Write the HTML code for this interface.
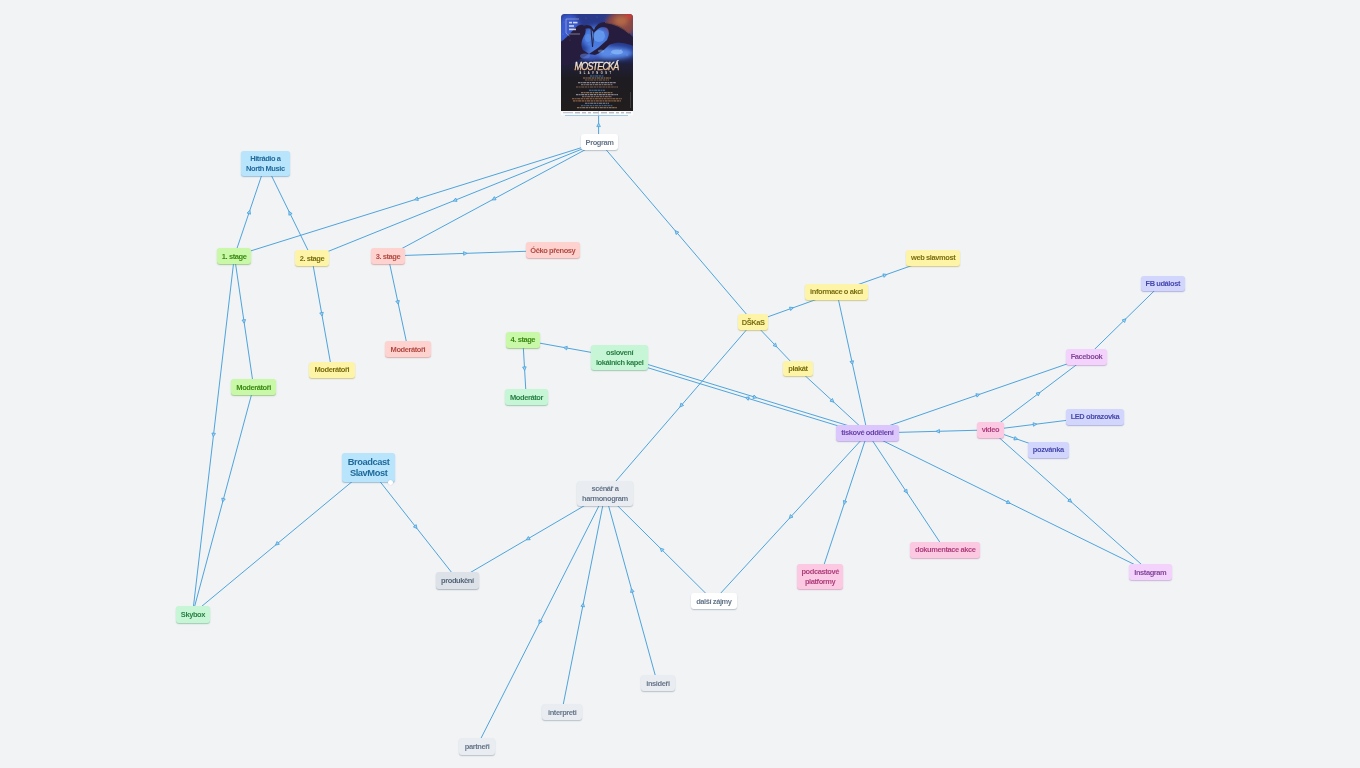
<!DOCTYPE html>
<html><head><meta charset="utf-8"><style>
html,body{margin:0;padding:0;}
body{width:1360px;height:768px;overflow:hidden;background:#f1f3f5;position:relative;font-family:"Liberation Sans",sans-serif;}
svg.e{position:absolute;left:0;top:0;}
svg.e line{stroke:#4ea4dc;stroke-width:1;}
svg.e .m{fill:#9fd3f5;stroke:#4ea4dc;stroke-width:0.8;}
.n{position:absolute;will-change:transform;box-sizing:border-box;border-radius:3px;box-shadow:0 1px 1.5px rgba(60,70,90,.28);display:flex;align-items:center;justify-content:center;text-align:center;font-size:7.5px;line-height:9.5px;font-weight:bold;white-space:nowrap;}
.n span{display:block;letter-spacing:-0.42px;position:relative;top:0.4px;}
.big{font-size:9.3px;line-height:11.6px;}
.big span{top:0.6px;}
.ic{position:absolute;width:5px;height:5px;border-radius:50%;background:#fff;box-shadow:0 0 1px rgba(0,0,0,.25);}
.poster{position:absolute;overflow:hidden;will-change:transform;}
.poster svg{display:block;}
</style></head><body>
<svg class="e" width="1360" height="768"><line x1="598.6" y1="142.0" x2="598.6" y2="65.0"/><path class="m" d="M-1.6,-1.8 L1.9,0 L-1.6,1.8 Z" transform="translate(598.6,125.0) rotate(-90.0)"/><line x1="599.5" y1="142.0" x2="234.4" y2="256.0"/><path class="m" d="M-1.6,-1.8 L1.9,0 L-1.6,1.8 Z" transform="translate(416.3,199.2) rotate(162.7)"/><line x1="599.5" y1="142.0" x2="311.8" y2="258.0"/><path class="m" d="M-1.6,-1.8 L1.9,0 L-1.6,1.8 Z" transform="translate(454.9,200.3) rotate(158.0)"/><line x1="599.5" y1="142.0" x2="388.0" y2="256.0"/><path class="m" d="M-1.6,-1.8 L1.9,0 L-1.6,1.8 Z" transform="translate(493.8,199.0) rotate(151.7)"/><line x1="599.5" y1="142.0" x2="753.2" y2="322.1"/><path class="m" d="M-1.6,-1.8 L1.9,0 L-1.6,1.8 Z" transform="translate(676.4,232.1) rotate(229.5)"/><line x1="265.6" y1="163.7" x2="234.4" y2="256.0"/><path class="m" d="M-1.6,-1.8 L1.9,0 L-1.6,1.8 Z" transform="translate(249.3,212.1) rotate(288.7)"/><line x1="265.6" y1="163.7" x2="311.8" y2="258.0"/><path class="m" d="M-1.6,-1.8 L1.9,0 L-1.6,1.8 Z" transform="translate(289.8,213.0) rotate(243.9)"/><line x1="234.4" y1="256.0" x2="253.6" y2="386.8"/><path class="m" d="M-1.6,-1.8 L1.9,0 L-1.6,1.8 Z" transform="translate(244.0,321.4) rotate(81.7)"/><line x1="234.4" y1="256.0" x2="192.6" y2="613.9"/><path class="m" d="M-1.6,-1.8 L1.9,0 L-1.6,1.8 Z" transform="translate(213.5,434.8) rotate(96.7)"/><line x1="253.6" y1="386.8" x2="192.6" y2="613.9"/><path class="m" d="M-1.6,-1.8 L1.9,0 L-1.6,1.8 Z" transform="translate(223.1,500.1) rotate(105.0)"/><line x1="311.8" y1="258.0" x2="331.8" y2="370.2"/><path class="m" d="M-1.6,-1.8 L1.9,0 L-1.6,1.8 Z" transform="translate(321.8,314.2) rotate(79.9)"/><line x1="388.0" y1="256.0" x2="552.4" y2="250.4"/><path class="m" d="M-1.6,-1.8 L1.9,0 L-1.6,1.8 Z" transform="translate(465.2,253.4) rotate(-2.0)"/><line x1="388.0" y1="256.0" x2="407.9" y2="348.7"/><path class="m" d="M-1.6,-1.8 L1.9,0 L-1.6,1.8 Z" transform="translate(397.9,302.4) rotate(77.9)"/><line x1="522.9" y1="340.1" x2="526.2" y2="396.9"/><path class="m" d="M-1.6,-1.8 L1.9,0 L-1.6,1.8 Z" transform="translate(524.5,368.5) rotate(86.6)"/><line x1="619.6" y1="357.5" x2="522.9" y2="340.1"/><path class="m" d="M-1.6,-1.8 L1.9,0 L-1.6,1.8 Z" transform="translate(565.4,347.8) rotate(-169.8)"/><line x1="369.0" y1="467.6" x2="192.6" y2="613.9"/><path class="m" d="M-1.6,-1.8 L1.9,0 L-1.6,1.8 Z" transform="translate(277.0,543.9) rotate(140.3)"/><line x1="369.0" y1="467.6" x2="457.6" y2="580.0"/><path class="m" d="M-1.6,-1.8 L1.9,0 L-1.6,1.8 Z" transform="translate(415.8,527.0) rotate(51.7)"/><line x1="605.2" y1="493.5" x2="457.6" y2="580.0"/><path class="m" d="M-1.6,-1.8 L1.9,0 L-1.6,1.8 Z" transform="translate(527.9,538.9) rotate(149.6)"/><line x1="605.2" y1="493.5" x2="476.9" y2="746.3"/><path class="m" d="M-1.6,-1.8 L1.9,0 L-1.6,1.8 Z" transform="translate(539.9,622.0) rotate(116.9)"/><line x1="605.2" y1="493.5" x2="561.7" y2="712.2"/><path class="m" d="M-1.6,-1.8 L1.9,0 L-1.6,1.8 Z" transform="translate(583.0,605.0) rotate(281.2)"/><line x1="605.2" y1="493.5" x2="657.4" y2="683.1"/><path class="m" d="M-1.6,-1.8 L1.9,0 L-1.6,1.8 Z" transform="translate(631.9,590.5) rotate(254.6)"/><line x1="605.2" y1="493.5" x2="713.5" y2="601.0"/><path class="m" d="M-1.6,-1.8 L1.9,0 L-1.6,1.8 Z" transform="translate(661.6,549.5) rotate(224.8)"/><line x1="753.2" y1="322.1" x2="605.2" y2="493.5"/><path class="m" d="M-1.6,-1.8 L1.9,0 L-1.6,1.8 Z" transform="translate(681.2,405.5) rotate(130.8)"/><line x1="753.2" y1="322.1" x2="836.8" y2="292.1"/><path class="m" d="M-1.6,-1.8 L1.9,0 L-1.6,1.8 Z" transform="translate(791.6,308.3) rotate(-19.7)"/><line x1="753.2" y1="322.1" x2="797.5" y2="368.7"/><path class="m" d="M-1.6,-1.8 L1.9,0 L-1.6,1.8 Z" transform="translate(775.4,345.5) rotate(46.5)"/><line x1="836.8" y1="292.1" x2="933.1" y2="258.0"/><path class="m" d="M-1.6,-1.8 L1.9,0 L-1.6,1.8 Z" transform="translate(885.0,275.1) rotate(-19.5)"/><line x1="836.8" y1="292.1" x2="867.5" y2="433.2"/><path class="m" d="M-1.6,-1.8 L1.9,0 L-1.6,1.8 Z" transform="translate(852.1,362.7) rotate(77.7)"/><line x1="797.5" y1="368.7" x2="867.5" y2="433.2"/><path class="m" d="M-1.6,-1.8 L1.9,0 L-1.6,1.8 Z" transform="translate(832.4,400.9) rotate(42.6)"/><line x1="867.5" y1="433.2" x2="713.5" y2="601.0"/><path class="m" d="M-1.6,-1.8 L1.9,0 L-1.6,1.8 Z" transform="translate(790.6,517.0) rotate(132.5)"/><line x1="867.5" y1="433.2" x2="820.1" y2="576.6"/><path class="m" d="M-1.6,-1.8 L1.9,0 L-1.6,1.8 Z" transform="translate(844.6,502.6) rotate(108.3)"/><line x1="867.5" y1="433.2" x2="944.9" y2="549.8"/><path class="m" d="M-1.6,-1.8 L1.9,0 L-1.6,1.8 Z" transform="translate(906.2,491.5) rotate(56.4)"/><line x1="867.5" y1="433.2" x2="1150.3" y2="572.3"/><path class="m" d="M-1.6,-1.8 L1.9,0 L-1.6,1.8 Z" transform="translate(1008.6,502.6) rotate(26.2)"/><line x1="867.5" y1="433.2" x2="1086.5" y2="357.2"/><path class="m" d="M-1.6,-1.8 L1.9,0 L-1.6,1.8 Z" transform="translate(978.0,394.9) rotate(-19.1)"/><line x1="990.4" y1="429.9" x2="867.5" y2="433.2"/><path class="m" d="M-1.6,-1.8 L1.9,0 L-1.6,1.8 Z" transform="translate(937.9,431.3) rotate(178.4)"/><line x1="990.4" y1="429.9" x2="1086.5" y2="357.2"/><path class="m" d="M-1.6,-1.8 L1.9,0 L-1.6,1.8 Z" transform="translate(1038.5,393.5) rotate(-37.1)"/><line x1="990.4" y1="429.9" x2="1095.0" y2="416.8"/><path class="m" d="M-1.6,-1.8 L1.9,0 L-1.6,1.8 Z" transform="translate(1034.9,424.3) rotate(-7.1)"/><line x1="990.4" y1="429.9" x2="1048.5" y2="450.0"/><path class="m" d="M-1.6,-1.8 L1.9,0 L-1.6,1.8 Z" transform="translate(1016.0,438.8) rotate(19.2)"/><line x1="990.4" y1="429.9" x2="1150.3" y2="572.3"/><path class="m" d="M-1.6,-1.8 L1.9,0 L-1.6,1.8 Z" transform="translate(1070.2,501.0) rotate(41.7)"/><line x1="1086.5" y1="357.2" x2="1162.2" y2="283.1"/><path class="m" d="M-1.6,-1.8 L1.9,0 L-1.6,1.8 Z" transform="translate(1124.5,320.1) rotate(-44.3)"/><line x1="620.1" y1="356.0" x2="868.0" y2="431.7"/><path class="m" d="M-1.6,-1.8 L1.9,0 L-1.6,1.8 Z" transform="translate(755.0,397.2) rotate(17.0)"/><line x1="619.2" y1="359.0" x2="867.0" y2="434.7"/><path class="m" d="M-1.6,-1.8 L1.9,0 L-1.6,1.8 Z" transform="translate(747.2,398.1) rotate(197.0)"/></svg>
<div class="poster" style="left:561px;top:14px;width:72px;height:102px"><svg width="72" height="102" viewBox="0 0 72 102">
<defs>
<clipPath id="pc"><path d="M0,3.5 Q0,0 3.5,0 L68.5,0 Q72,0 72,3.5 L72,97.2 L0,97.2 Z"/></clipPath>
<filter id="pb" x="-30%" y="-30%" width="160%" height="160%"><feGaussianBlur stdDeviation="2.2"/></filter>
<filter id="pb2" x="-20%" y="-20%" width="140%" height="140%"><feGaussianBlur stdDeviation="0.45"/></filter>
<filter id="pb3" x="-10%" y="-50%" width="120%" height="200%"><feGaussianBlur stdDeviation="0.3"/></filter>
<linearGradient id="pbg" x1="0" y1="0" x2="0" y2="1"><stop offset="0" stop-color="#2a3a8a"/><stop offset="0.4" stop-color="#243a90"/><stop offset="0.52" stop-color="#201f3a"/><stop offset="0.66" stop-color="#1e1c22"/><stop offset="1" stop-color="#211d1d"/></linearGradient>
<linearGradient id="ptx" x1="0" y1="0" x2="0" y2="1"><stop offset="0" stop-color="#fbf6f0"/><stop offset="0.5" stop-color="#f0dcc4"/><stop offset="1" stop-color="#e09a58"/></linearGradient>
</defs>
<g clip-path="url(#pc)">
<rect width="72" height="97" fill="url(#pbg)"/>
<g filter="url(#pb)">
<ellipse cx="8" cy="20" rx="12" ry="20" fill="#3a5cd0"/>
<ellipse cx="60" cy="10" rx="15" ry="13" fill="#9a4a3a" opacity="0.85"/>
<ellipse cx="60" cy="7" rx="7" ry="5" fill="#d08048" opacity="0.6"/>
<ellipse cx="69" cy="1" rx="5" ry="3" fill="#e03a2a"/>
<ellipse cx="48" cy="39" rx="24" ry="6" fill="#5a8ae8"/>
<ellipse cx="30" cy="42" rx="10" ry="4" fill="#4060c8"/>
<ellipse cx="35" cy="24" rx="14" ry="12" fill="#4a7ae0"/>
</g>
<g filter="url(#pb2)" fill="#261f3c">
<path d="M-3,30 Q6,24 14,14 Q18,10 22,11 Q26,14 24,20 Q18,30 22,36 L28,40 Q18,46 10,50 L-3,52 Z"/>
<path d="M20,14 Q24,9 30,12 L33,16 Q36,8 44,8 Q58,10 68,19 L74,25 L74,33 Q64,28 54,29 Q48,30 46,33 Q40,39 34,41 L28,40 Q38,34 46,26 Q50,18 46,14 Q40,11 35,17 L33,19 L30,15 Q26,13 22,16 Z"/>
<path d="M30,15 L31.5,33 L33,17" stroke="#261f3c" stroke-width="1" fill="none"/>
</g>
<g filter="url(#pb3)">
<ellipse cx="38" cy="22" rx="6" ry="6" fill="#80b6fa" opacity="0.45"/>
<ellipse cx="27" cy="24" rx="3" ry="4" fill="#6a9ef0" opacity="0.4"/>
<ellipse cx="56" cy="38" rx="6" ry="2.5" fill="#a8d8ff" opacity="0.45"/>
<ellipse cx="40" cy="37" rx="3" ry="1.5" fill="#90c8ff" opacity="0.4"/>
<ellipse cx="24" cy="42" rx="5" ry="2.5" fill="#5a78d0" opacity="0.6"/>
<path d="M44,8.5 Q58,10.5 68,19.5" stroke="#c87850" stroke-width="0.7" fill="none" opacity="0.6"/>
</g>
<g fill="#cfe2ff" opacity="0.8">
<circle cx="3" cy="8" r="0.35"/><circle cx="9" cy="26" r="0.3"/><circle cx="14" cy="3" r="0.3"/><circle cx="2" cy="20" r="0.35"/><circle cx="25" cy="4" r="0.3"/><circle cx="36" cy="3" r="0.35"/><circle cx="42" cy="18" r="0.4"/><circle cx="28" cy="30" r="0.35"/><circle cx="60" cy="36" r="0.5"/><circle cx="50" cy="40" r="0.4"/><circle cx="66" cy="41" r="0.4"/>
</g>
<path d="M5,5 L18,5 M5,5 L5,19 L8.5,22 M8.5,20 L19,20" stroke="#b8bccc" stroke-width="0.7" fill="none" opacity="0.85"/>
<g fill="#e8eaf2" filter="url(#pb3)" opacity="0.85"><rect x="8" y="7.8" width="3" height="1.6"/><rect x="12" y="7.8" width="4.5" height="1.6"/><rect x="8" y="11.2" width="5" height="1.6"/><rect x="8" y="14.6" width="7" height="1.6"/></g>
<text x="35.5" y="56" text-anchor="middle" font-family="Liberation Sans" font-style="italic" font-weight="normal" font-size="10.5" fill="url(#ptx)" stroke="url(#ptx)" stroke-width="0.35" letter-spacing="-1" transform="translate(35.5,56) scale(0.86,1) translate(-35.5,-56)">MOSTECKÁ</text>
<text x="35.5" y="59.8" text-anchor="middle" font-family="Liberation Sans" font-weight="bold" font-size="2.6" fill="#e0dcd6" letter-spacing="2.5">SLAVNOST</text>
<g filter="url(#pb3)" opacity="0.85" stroke-width="1.1" stroke-dasharray="2.5 0.6 1.5 0.6 3 0.6">
<path d="M29,62 h14" stroke="#3a8ad8"/>
<path d="M22,64 h28" stroke="#b88a5a"/>
<path d="M24,66 h24" stroke="#8a6a50"/>
<path d="M17,68.6 h38" stroke="#9a9aa8"/>
<path d="M20,70.6 h32" stroke="#8a7a70"/>
<path d="M15,73 h42" stroke="#8a6a5a"/>
<path d="M28,76.2 h16" stroke="#3a8ad8"/>
<path d="M20,78.6 h32" stroke="#a08060"/>
<path d="M15,80.6 h42" stroke="#9a9aa8"/>
<path d="M21,82.6 h30" stroke="#8a7060"/>
<path d="M11,84.8 h50" stroke="#b07a50"/>
<path d="M12,86.9 h48" stroke="#a07050"/>
<path d="M24,89.2 h24" stroke="#9a9aa8"/>
<path d="M20,91.6 h32" stroke="#3a6a9a"/>
<path d="M16,93.6 h40" stroke="#a08060"/>
</g>
<rect x="69" y="78" width="0.7" height="16" fill="#6a6a70" opacity="0.6"/>
</g>
<rect x="0" y="97.2" width="72" height="4.1" fill="#fbfbfc"/>
<g fill="#9aa0aa" opacity="0.7">
<rect x="2" y="98.2" width="10" height="1"/><rect x="14" y="98" width="5" height="1.4"/><rect x="21" y="98" width="4" height="1.4"/><rect x="27" y="98" width="3" height="1.4"/><rect x="32" y="98" width="6" height="1.4"/><rect x="40" y="98" width="6" height="1.4"/><rect x="48" y="98" width="5" height="1.4"/><rect x="55" y="98" width="3" height="1.4"/><rect x="60" y="98" width="3" height="1.4"/><rect x="65" y="98" width="5" height="1.4"/>
</g>
<rect x="37" y="97.2" width="0.5" height="3.8" fill="#c0c8d0"/>
<rect x="4" y="101" width="63" height="0.8" fill="#8ec0e6"/>
</svg>
</div><div class="n" style="left:581.0px;top:134.0px;width:37.0px;height:16.0px;background:#ffffff;color:#66768a;box-shadow:0 1px 1.2px rgba(90,105,125,0.37)"><span style="top:1.2000000000000002px">Program</span></div><div class="n" style="left:241.3px;top:151.3px;width:48.7px;height:24.8px;background:#b8e4fc;color:#206b9c;box-shadow:0 1px 1.2px rgba(60,130,175,0.47)"><span>Hitrádio a<br>North Music</span></div><div class="n" style="left:217.3px;top:248.0px;width:34.3px;height:16.0px;background:#c9f8a9;color:#3a8a12;box-shadow:0 1px 1.2px rgba(90,160,50,0.52)"><span>1. stage</span></div><div class="n" style="left:294.8px;top:250.0px;width:34.0px;height:16.0px;background:#fdf4a8;color:#7a6e0e;box-shadow:0 1px 1.2px rgba(170,150,40,0.47)"><span>2. stage</span></div><div class="n" style="left:371.0px;top:248.0px;width:34.0px;height:16.0px;background:#fdd2cf;color:#b24a42;box-shadow:0 1px 1.2px rgba(190,100,95,0.47)"><span>3. stage</span></div><div class="n" style="left:525.5px;top:242.4px;width:53.7px;height:16.0px;background:#fdd2cf;color:#b24a42;box-shadow:0 1px 1.2px rgba(190,100,95,0.47)"><span>Óčko přenosy</span></div><div class="n" style="left:385.0px;top:340.8px;width:45.7px;height:15.8px;background:#fdd2cf;color:#b24a42;box-shadow:0 1px 1.2px rgba(190,100,95,0.47)"><span>Moderátoři</span></div><div class="n" style="left:309.0px;top:362.4px;width:45.6px;height:15.6px;background:#fdf4a8;color:#7a6e0e;box-shadow:0 1px 1.2px rgba(170,150,40,0.47)"><span>Moderátoři</span></div><div class="n" style="left:231.0px;top:378.8px;width:45.2px;height:16.0px;background:#c9f8a9;color:#3a8a12;box-shadow:0 1px 1.2px rgba(90,160,50,0.52)"><span>Moderátoři</span></div><div class="n" style="left:506.0px;top:332.3px;width:33.7px;height:15.7px;background:#c9f8a9;color:#3a8a12;box-shadow:0 1px 1.2px rgba(90,160,50,0.52)"><span>4. stage</span></div><div class="n" style="left:504.7px;top:389.0px;width:43.0px;height:15.8px;background:#c6f6d6;color:#2a8045;box-shadow:0 1px 1.2px rgba(70,150,100,0.47)"><span>Moderátor</span></div><div class="n" style="left:591.0px;top:345.0px;width:57.3px;height:25.0px;background:#c6f6d6;color:#2a8045;box-shadow:0 1px 1.2px rgba(70,150,100,0.47)"><span>oslovení<br>lokálních kapel</span></div><div class="n big" style="left:342.3px;top:453.0px;width:53.3px;height:29.2px;background:#b8e4fc;color:#206b9c;box-shadow:0 1px 1.2px rgba(60,130,175,0.47)"><span>Broadcast<br>SlavMost</span></div><div class="n" style="left:175.6px;top:605.5px;width:33.9px;height:16.7px;background:#c6f6d6;color:#2a8045;box-shadow:0 1px 1.2px rgba(70,150,100,0.47)"><span>Skybox</span></div><div class="n" style="left:738.0px;top:314.2px;width:30.4px;height:15.8px;background:#fdf4a8;color:#7a6e0e;box-shadow:0 1px 1.2px rgba(170,150,40,0.47)"><span>DŠKaS</span></div><div class="n" style="left:805.4px;top:284.3px;width:62.7px;height:15.7px;background:#fdf4a8;color:#7a6e0e;box-shadow:0 1px 1.2px rgba(170,150,40,0.47)"><span>informace o akci</span></div><div class="n" style="left:906.0px;top:250.2px;width:54.3px;height:15.6px;background:#fdf4a8;color:#7a6e0e;box-shadow:0 1px 1.2px rgba(170,150,40,0.47)"><span>web slavmost</span></div><div class="n" style="left:782.5px;top:361.0px;width:29.9px;height:15.4px;background:#fdf4a8;color:#7a6e0e;box-shadow:0 1px 1.2px rgba(170,150,40,0.47)"><span>plakát</span></div><div class="n" style="left:1140.5px;top:275.5px;width:43.5px;height:15.3px;background:#d2d6fc;color:#4648ac;box-shadow:0 1px 1.2px rgba(100,105,190,0.47)"><span>FB událost</span></div><div class="n" style="left:1066.0px;top:349.4px;width:41.0px;height:15.6px;background:#f3d3fb;color:#84479a;box-shadow:0 1px 1.2px rgba(165,105,185,0.47)"><span>Facebook</span></div><div class="n" style="left:1066.0px;top:409.0px;width:58.0px;height:15.6px;background:#d2d6fc;color:#4648ac;box-shadow:0 1px 1.2px rgba(100,105,190,0.47)"><span>LED obrazovka</span></div><div class="n" style="left:977.0px;top:422.0px;width:26.8px;height:15.7px;background:#fcc9e2;color:#ae3f7c;box-shadow:0 1px 1.2px rgba(190,90,140,0.47)"><span>video</span></div><div class="n" style="left:1028.2px;top:442.2px;width:40.5px;height:15.7px;background:#d2d6fc;color:#4648ac;box-shadow:0 1px 1.2px rgba(100,105,190,0.47)"><span>pozvánka</span></div><div class="n" style="left:836.2px;top:425.4px;width:62.6px;height:15.6px;background:#dcc7fc;color:#6843a8;box-shadow:0 1px 1.2px rgba(130,95,190,0.47)"><span>tiskové oddělení</span></div><div class="n" style="left:909.7px;top:542.0px;width:70.4px;height:15.6px;background:#fcc9e2;color:#ae3f7c;box-shadow:0 1px 1.2px rgba(190,90,140,0.47)"><span>dokumentace akce</span></div><div class="n" style="left:797.0px;top:564.3px;width:46.3px;height:24.7px;background:#fcc9e2;color:#ae3f7c;box-shadow:0 1px 1.2px rgba(190,90,140,0.47)"><span>podcastové<br>platformy</span></div><div class="n" style="left:1129.0px;top:564.3px;width:42.6px;height:16.1px;background:#f3d3fb;color:#84479a;box-shadow:0 1px 1.2px rgba(165,105,185,0.47)"><span>Instagram</span></div><div class="n" style="left:577.2px;top:481.0px;width:55.9px;height:25.0px;background:#e9ecf0;color:#66768a;box-shadow:0 1px 1.2px rgba(90,105,125,0.37)"><span>scénář a<br>harmonogram</span></div><div class="n" style="left:436.3px;top:571.7px;width:42.7px;height:16.7px;background:#dde2e8;color:#56667a;box-shadow:0 1px 1.2px rgba(80,95,115,0.42)"><span>produkční</span></div><div class="n" style="left:690.6px;top:593.0px;width:45.8px;height:16.0px;background:#ffffff;color:#66768a;box-shadow:0 1px 1.2px rgba(90,105,125,0.37)"><span>další zájmy</span></div><div class="n" style="left:640.5px;top:675.0px;width:33.8px;height:16.3px;background:#e9ecf0;color:#66768a;box-shadow:0 1px 1.2px rgba(90,105,125,0.37)"><span>insideři</span></div><div class="n" style="left:541.5px;top:704.0px;width:40.4px;height:16.4px;background:#e9ecf0;color:#66768a;box-shadow:0 1px 1.2px rgba(90,105,125,0.37)"><span>interpreti</span></div><div class="n" style="left:458.8px;top:738.0px;width:36.1px;height:16.6px;background:#e9ecf0;color:#66768a;box-shadow:0 1px 1.2px rgba(90,105,125,0.37)"><span>partneři</span></div>
<div class="ic" style="left:388px;top:479.5px"></div>
</body></html>
